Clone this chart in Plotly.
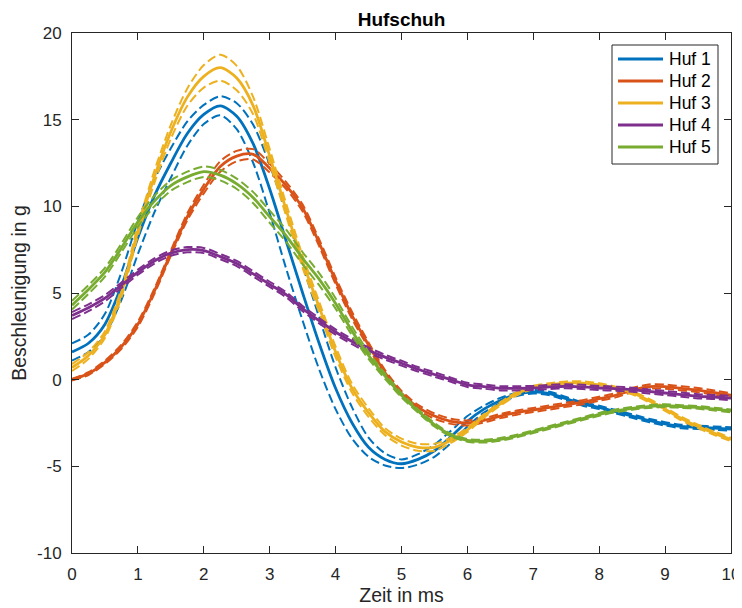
import plotly.graph_objects as go

t = [i * 0.25 for i in range(41)]

x_ticks = [0, 1, 2, 3, 4, 5, 6, 7, 8, 9, 10]
y_ticks = [-10, -5, 0, 5, 10, 15, 20]
y_ticklabels = ["-10", "-5", "0", "5", "10", "15", "20"]

huf1_mean = [1.6, 2.1, 3.2, 5.4, 8.2, 10.6, 12.5, 14.2, 15.3, 15.8, 15.2, 13.6, 11.0, 8.0, 5.0, 2.1,
             -0.5, -2.5, -3.9, -4.6, -4.85, -4.6, -4.1, -3.3, -2.4, -1.7, -1.2, -0.85, -0.7, -0.8,
             -1.1, -1.4, -1.6, -1.85, -2.1, -2.35, -2.55, -2.7, -2.75, -2.8, -2.85]
huf1_std = [0.5, 0.5, 0.6, 0.8, 0.95, 0.95, 0.85, 0.7, 0.55, 0.55, 0.75, 1.1, 1.4, 1.6, 1.6, 1.5,
            1.2, 0.9, 0.55, 0.35, 0.25, 0.3, 0.35, 0.35, 0.3, 0.2, 0.15, 0.1, 0.1, 0.1,
            0.1, 0.1, 0.1, 0.1, 0.1, 0.1, 0.1, 0.1, 0.1, 0.1, 0.1]

huf2_mean = [0.0, 0.35, 1.0, 1.9, 3.2, 5.1, 7.3, 9.4, 11.0, 12.3, 12.9, 13.0, 12.2, 11.2, 9.9, 7.9,
             5.7, 3.7, 2.0, 0.4, -0.8, -1.6, -2.1, -2.4, -2.5, -2.35, -2.1, -1.9, -1.75, -1.6,
             -1.45, -1.3, -1.1, -0.9, -0.6, -0.4, -0.4, -0.5, -0.6, -0.75, -0.9]
huf2_std = [0.05, 0.08, 0.1, 0.12, 0.15, 0.15, 0.15, 0.2, 0.25, 0.3, 0.3, 0.3, 0.25, 0.2, 0.2, 0.2,
            0.2, 0.2, 0.15, 0.15, 0.15, 0.15, 0.15, 0.15, 0.15, 0.12, 0.12, 0.12, 0.12, 0.12,
            0.12, 0.12, 0.12, 0.12, 0.12, 0.12, 0.12, 0.12, 0.12, 0.12, 0.12]

huf3_mean = [0.7, 1.4, 2.6, 5.0, 8.6, 11.7, 14.3, 16.3, 17.5, 18.0, 17.4, 15.8, 12.9, 9.8, 6.8, 4.2,
             1.6, -0.5, -1.9, -3.0, -3.6, -3.9, -3.9, -3.5, -2.9, -2.1, -1.4, -0.8, -0.45, -0.3,
             -0.2, -0.2, -0.3, -0.5, -0.75, -1.2, -1.7, -2.25, -2.7, -3.1, -3.45]
huf3_std = [0.2, 0.2, 0.2, 0.25, 0.3, 0.35, 0.4, 0.5, 0.65, 0.75, 0.7, 0.5, 0.4, 0.35, 0.35, 0.3,
            0.3, 0.25, 0.25, 0.2, 0.2, 0.2, 0.2, 0.15, 0.12, 0.1, 0.1, 0.1, 0.1, 0.1,
            0.1, 0.1, 0.1, 0.1, 0.1, 0.1, 0.1, 0.1, 0.1, 0.1, 0.1]

huf4_mean = [3.7, 4.15, 4.7, 5.45, 6.2, 6.85, 7.3, 7.5, 7.45, 7.1, 6.7, 6.1, 5.5, 4.9, 4.1, 3.4,
             2.75, 2.2, 1.7, 1.3, 0.95, 0.6, 0.3, 0.0, -0.3, -0.4, -0.5, -0.5, -0.48, -0.42,
             -0.38, -0.42, -0.48, -0.52, -0.58, -0.68, -0.77, -0.86, -0.96, -1.0, -1.06]
huf4_std = [0.2, 0.2, 0.18, 0.16, 0.15, 0.15, 0.15, 0.15, 0.15, 0.15, 0.15, 0.15, 0.15, 0.15, 0.15, 0.15,
            0.15, 0.15, 0.15, 0.14, 0.14, 0.13, 0.13, 0.12, 0.12, 0.12, 0.12, 0.12, 0.12, 0.12,
            0.12, 0.12, 0.12, 0.12, 0.12, 0.12, 0.12, 0.12, 0.12, 0.12, 0.12]

huf5_mean = [4.3, 5.2, 6.2, 7.6, 9.1, 10.3, 11.2, 11.7, 12.0, 11.8, 11.3, 10.5, 9.4, 8.3, 7.0, 5.8,
             4.4, 2.8, 1.4, 0.2, -0.9, -1.8, -2.6, -3.2, -3.5, -3.55, -3.45, -3.25, -3.0, -2.75,
             -2.5, -2.25, -2.0, -1.8, -1.65, -1.55, -1.5, -1.55, -1.6, -1.7, -1.8]
huf5_std = [0.25, 0.25, 0.25, 0.25, 0.28, 0.3, 0.3, 0.3, 0.3, 0.3, 0.3, 0.32, 0.35, 0.35, 0.35, 0.35,
            0.3, 0.25, 0.2, 0.15, 0.12, 0.1, 0.1, 0.08, 0.08, 0.08, 0.08, 0.08, 0.08, 0.08,
            0.08, 0.08, 0.08, 0.08, 0.08, 0.08, 0.08, 0.08, 0.08, 0.08, 0.08]

names = ["Huf 1", "Huf 2", "Huf 3", "Huf 4", "Huf 5"]
colors = ["#0072BD", "#D95319", "#EDB120", "#7E2F8E", "#77AC30"]
means = [huf1_mean, huf2_mean, huf3_mean, huf4_mean, huf5_mean]
stds = [huf1_std, huf2_std, huf3_std, huf4_std, huf5_std]

FONT = "Liberation Sans"
INK = "#262626"

fig = go.Figure()
for name, col, m, s in zip(names, colors, means, stds):
    fig.add_trace(go.Scatter(x=t, y=m, mode="lines", name=name, showlegend=False,
                             line=dict(color=col, width=2.8, shape="spline", smoothing=0.8)))
    upper = [a + b for a, b in zip(m, s)]
    lower = [a - b for a, b in zip(m, s)]
    for yy in (upper, lower):
        fig.add_trace(go.Scatter(x=t, y=yy, mode="lines", showlegend=False, hoverinfo="skip",
                                 line=dict(color=col, width=2, dash="9px,4px",
                                           shape="spline", smoothing=0.8)))

# legend drawn in plot-paper coordinates (MATLAB-style box with long line samples)
W, H = 659.0, 520.0
def px(X):
    return (X - 72) / W
def py(Y):
    return (553 - Y) / H

shapes = [dict(type="rect", xref="paper", yref="paper", x0=px(612), x1=px(718), y0=py(164), y1=py(45),
               line=dict(color=INK, width=1), fillcolor="white", layer="above")]
annotations = []
for k, (name, col) in enumerate(zip(names, colors)):
    rowY = 59 + 22 * k
    shapes.append(dict(type="line", xref="paper", yref="paper", x0=px(618), x1=px(663),
                       y0=py(rowY), y1=py(rowY), line=dict(color=col, width=3), layer="above"))
    annotations.append(dict(text=name, xref="paper", yref="paper", x=px(667), y=py(rowY),
                            xanchor="left", yanchor="middle", showarrow=False,
                            font=dict(family=FONT, size=17.5, color="black")))

axis_common = dict(showline=True, linecolor=INK, linewidth=1, mirror="ticks",
                   ticks="inside", ticklen=7, tickcolor=INK, showgrid=False, automargin=False,
                   zeroline=False, tickfont=dict(family=FONT, size=17, color=INK))

# body has an 8px default margin in the page, so the figure is offset by 8px
fig.update_layout(
    width=742, height=608,
    margin=dict(l=64, r=19, t=25, b=63, autoexpand=False),
    paper_bgcolor="white", plot_bgcolor="white",
    title=dict(text="<b>Hufschuh</b>", x=0.5, xref="paper", y=1 - 11 / 608, yref="container",
               xanchor="center", yanchor="middle",
               font=dict(family=FONT, size=19, color="black")),
    xaxis=dict(range=[0, 10], tickvals=x_ticks, ticklabelstandoff=6,
               title=dict(text="Zeit in ms", standoff=3,
                          font=dict(family=FONT, size=19.5, color=INK)),
               **axis_common),
    yaxis=dict(range=[-10, 20], tickvals=y_ticks, ticktext=y_ticklabels, ticklabelstandoff=6,
               title=dict(text="Beschleunigung in g", standoff=6,
                          font=dict(family=FONT, size=19.5, color=INK)),
               **axis_common),
    shapes=shapes,
    annotations=annotations,
    showlegend=False,
)

fig.write_html("out.html")
